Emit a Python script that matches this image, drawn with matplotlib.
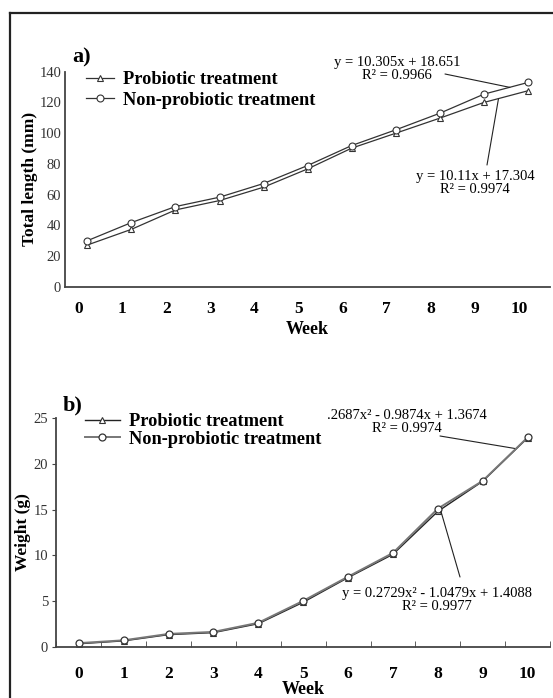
import numpy as np
import matplotlib
matplotlib.use("Agg")
import matplotlib.pyplot as plt
from matplotlib.lines import Line2D
from matplotlib.transforms import ScaledTranslation

plt.rcParams['font.family'] = ['Liberation Serif', 'DejaVu Serif']

W, H = 553, 698

weeks = np.arange(0, 11)

# a) total length (mm)
len_pro = [27.3, 37.5, 50.1, 56.2, 64.9, 76.8, 90.3, 100.0, 109.8, 120.0, 127.6]
len_non = [30.1, 41.9, 52.3, 58.4, 67.3, 79.0, 92.0, 102.2, 113.0, 125.4, 133.0]

# b) weight (g)
wt_pro = [0.30, 0.62, 1.30, 1.52, 2.50, 4.85, 7.55, 10.10, 14.80, 18.10, 22.85]
wt_non = [0.37, 0.68, 1.38, 1.60, 2.60, 5.00, 7.65, 10.25, 15.10, 18.15, 22.90]

len_ticks = np.arange(0, 141, 20)
wt_ticks = np.arange(0, 26, 5)

labels = ['Probiotic treatment', 'Non-probiotic treatment']
eq_len_non = 'y = 10.305x + 18.651\nR² = 0.9966'
eq_len_pro = 'y = 10.11x + 17.304\nR² = 0.9974'
eq_wt_non = '.2687x² - 0.9874x + 1.3674\nR² = 0.9974'
eq_wt_pro = 'y = 0.2729x² - 1.0479x + 1.4088\nR² = 0.9977'


def fp(x, y):
    # pixel position -> figure fraction
    return (x / W, 1 - y / H)


fig = plt.figure(figsize=(W / 100, H / 100), dpi=100)

# outer frame (only top and left visible)
fig.add_artist(Line2D([10 / W, 10 / W], [0, 1 - 13 / H], transform=fig.transFigure,
                      color='#222222', lw=1.6))
fig.add_artist(Line2D([10 / W, 1], [1 - 13 / H, 1 - 13 / H], transform=fig.transFigure,
                      color='#222222', lw=1.6))

ax1 = fig.add_axes([65.3 / W, 1 - 287 / H, (550 - 65.3) / W, (287 - 71.7) / H])
ax2 = fig.add_axes([56.4 / W, 1 - 646.5 / H, (550 - 56.4) / W, (646.5 - 418.3) / H])

spine_col = '#444444'
for ax in (ax1, ax2):
    ax.set_facecolor('none')
    ax.spines['top'].set_visible(False)
    ax.spines['right'].set_visible(False)
    ax.spines['left'].set_color(spine_col)
    ax.spines['bottom'].set_color(spine_col)
    ax.spines['left'].set_linewidth(1.3)
    ax.spines['bottom'].set_linewidth(1.3)
    ax.set_xlim(-0.5, 10.5)
    ax.set_xticks(weeks)
    ax.set_xticklabels([str(w) for w in weeks], fontsize=12.5, fontweight='bold')

# ---- panel a
ax1.plot(weeks, len_pro, color='#333333', lw=0.9, marker='^', ms=4.5,
         mfc='white', mec='#333333', mew=0.8, label=labels[0])
ax1.plot(weeks, len_non, color='#333333', lw=0.9, marker='o', ms=5,
         mfc='white', mec='#333333', mew=0.8, label=labels[1])
ax1.set_ylim(0, 140)
ax1.set_yticks(len_ticks)
ax1.set_yticklabels([str(v) for v in len_ticks], fontsize=10.5, color='#333333')
ax1.tick_params(axis='y', length=0, pad=3)
ax1.tick_params(axis='x', length=0, pad=10)
for lab in ax1.get_xticklabels():
    lab.set_transform(lab.get_transform() + ScaledTranslation(-0.09, 0, fig.dpi_scale_trans))
ax1.set_xlabel('Week', fontsize=13, fontweight='bold', labelpad=3)
ax1.set_ylabel('Total length (mm)', fontsize=12.5, fontweight='bold', labelpad=1)
ax1.legend(loc='upper left', bbox_to_anchor=fp(86, 71), bbox_transform=fig.transFigure,
           frameon=False, prop={'weight': 'bold', 'size': 13.2}, handlelength=1.5,
           handletextpad=0.5, labelspacing=0.2, borderpad=0, borderaxespad=0)
fig.text(*fp(72, 57), 'a)', fontsize=16, fontweight='bold', va='center', ha='left')

fig.text(*fp(397, 69), eq_len_non, fontsize=10.5, ha='center', va='center', linespacing=1.05)
fig.text(*fp(475, 183), eq_len_pro, fontsize=10.5, ha='center', va='center', linespacing=1.05)
ax1.annotate('', xy=(9.59, 129.8), xytext=fp(445, 74), textcoords='figure fraction',
             arrowprops=dict(arrowstyle='-', color='#222222', lw=0.8, shrinkA=0, shrinkB=0))
ax1.annotate('', xy=(9.33, 122.3), xytext=fp(487, 165), textcoords='figure fraction',
             arrowprops=dict(arrowstyle='-', color='#222222', lw=0.8, shrinkA=0, shrinkB=0))

# ---- panel b
ax2.plot(weeks, wt_pro, color='#222222', lw=1.0, marker='^', ms=4,
         mfc='white', mec='#333333', mew=0.8, label=labels[0])
ax2.plot(weeks, wt_non, color='#777777', lw=1.4, marker='o', ms=5,
         mfc='white', mec='#333333', mew=0.9, label=labels[1])
ax2.set_ylim(0, 25)
ax2.set_yticks(wt_ticks)
ax2.set_yticklabels([str(v) for v in wt_ticks], fontsize=10.5, color='#333333')
ax2.tick_params(axis='y', length=3, direction='out', color=spine_col, pad=3)
ax2.tick_params(axis='x', which='major', length=0, pad=14)
ax2.set_xticks(np.arange(-0.5, 10.6, 1.0), minor=True)
ax2.tick_params(axis='x', which='minor', length=4, direction='in', color=spine_col)
ax2.set_xlabel('Week', fontsize=13, fontweight='bold', labelpad=-1)
ax2.set_ylabel('Weight (g)', fontsize=12.5, fontweight='bold')
ax2.yaxis.set_label_coords(-0.052, 0.5)
ax2.legend(loc='upper left', bbox_to_anchor=fp(85, 413), bbox_transform=fig.transFigure,
           frameon=False, prop={'weight': 'bold', 'size': 13.2}, handlelength=1.9,
           handletextpad=0.5, labelspacing=0.05, borderpad=0, borderaxespad=0)
fig.text(*fp(63, 405), 'b)', fontsize=16, fontweight='bold', va='center', ha='left')

fig.text(*fp(407, 422), eq_wt_non, fontsize=10.5, ha='center', va='center', linespacing=1.05)
fig.text(*fp(437, 600), eq_wt_pro, fontsize=10.5, ha='center', va='center', linespacing=1.05)
ax2.annotate('', xy=(9.71, 21.7), xytext=fp(440, 436), textcoords='figure fraction',
             arrowprops=dict(arrowstyle='-', color='#222222', lw=0.8, shrinkA=0, shrinkB=0))
ax2.annotate('', xy=(8.07, 14.8), xytext=fp(460, 577), textcoords='figure fraction',
             arrowprops=dict(arrowstyle='-', color='#222222', lw=0.8, shrinkA=0, shrinkB=0))

fig.savefig('out.png', dpi=100)
